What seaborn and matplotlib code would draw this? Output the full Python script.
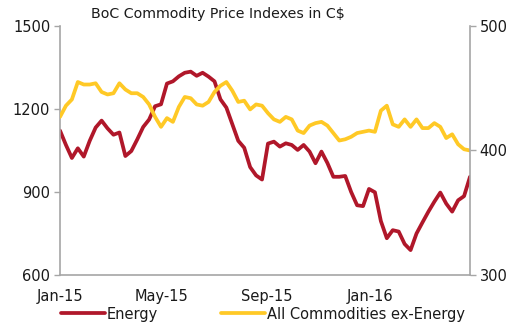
import numpy as np
import pandas as pd
import matplotlib
matplotlib.use("Agg")
import matplotlib.pyplot as plt
import matplotlib.dates as mdates
import seaborn as sns

# Weekly index levels, Jan 2015 - Apr 2016
energy = [1122, 1070, 1023, 1058, 1028, 1085, 1133, 1158, 1130, 1107,
          1115, 1030, 1048, 1090, 1135, 1162, 1210, 1217, 1292, 1300,
          1318, 1331, 1335, 1320, 1331, 1317, 1300, 1235, 1205, 1145,
          1085, 1060, 990, 960, 945, 1075, 1082, 1064, 1076, 1070,
          1052, 1070, 1046, 1004, 1046, 1005, 955, 955, 958, 900,
          852, 849, 911, 899, 795, 733, 762, 757, 712, 690,
          750, 790, 829, 865, 898, 858, 829, 870, 885, 955]
ex_energy = [427, 436, 441, 455, 453, 453, 454, 447, 445, 446,
             454, 449, 446, 446, 443, 437, 427, 419, 426, 423,
             435, 443, 442, 437, 436, 439, 447, 452, 455, 448,
             439, 440, 433, 437, 436, 430, 425, 423, 427, 425,
             416, 414, 420, 422, 423, 420, 414, 408, 409, 411,
             414, 415, 416, 415, 432, 436, 421, 419, 425, 419,
             425, 418, 418, 422, 419, 410, 413, 405, 401, 400]
dates = pd.date_range("2015-01-01", periods=len(energy), freq="7D")

tick_dates = ["2015-01-01", "2015-05-01", "2015-09-01", "2016-01-01"]
tick_labels = ["Jan-15", "May-15", "Sep-15", "Jan-16"]
left_ticks = [600, 900, 1200, 1500]
right_ticks = [300, 400, 500]

df = pd.DataFrame({"date": dates, "Energy": energy,
                   "All Commodities ex-Energy": ex_energy})

sns.set_theme(style="white")
plt.rcParams["font.family"] = ["DejaVu Sans"]

RED = "#B0172A"
YELLOW = "#FFC926"
GREY = "#A6A6A6"
TEXT = "#1a1a1a"

fig = plt.figure(figsize=(5.21, 3.31), dpi=100)
ax = fig.add_axes([60 / 521, 1 - 275 / 331, 410 / 521, 249 / 331])
ax2 = ax.twinx()

sns.lineplot(data=df, x="date", y="Energy", ax=ax, color=RED, lw=2.7,
             label="Energy", legend=False)
sns.lineplot(data=df, x="date", y="All Commodities ex-Energy", ax=ax2,
             color=YELLOW, lw=2.7, label="All Commodities ex-Energy",
             legend=False)

ax.set_xlim(dates[0], dates[-1])
ax.set_ylim(600, 1500)
ax2.set_ylim(300, 500)
ax.set_yticks(left_ticks)
ax2.set_yticks(right_ticks)
ax.set_xticks(pd.to_datetime(tick_dates))
ax.set_xticklabels(tick_labels)
ax.set_xlabel("")
ax.set_ylabel("")
ax2.set_ylabel("")

for a in (ax, ax2):
    a.grid(False)
    a.spines["top"].set_visible(False)
    for s in ("left", "right", "bottom"):
        a.spines[s].set_color(GREY)
        a.spines[s].set_linewidth(1.2)
    a.tick_params(axis="both", direction="out", length=4, width=1,
                  color=GREY, labelsize=10.5, labelcolor=TEXT, pad=3)
ax.tick_params(axis="x", pad=6)
ax.tick_params(axis="y", left=True)
ax2.tick_params(axis="y", right=True)
ax.spines["right"].set_visible(False)
ax2.spines["left"].set_visible(False)
ax2.spines["bottom"].set_visible(False)

fig.text(218 / 521, 1 - 14 / 331, "BoC Commodity Price Indexes in C$",
         ha="center", va="center", fontsize=10.2, color=TEXT)

handles = ax.get_lines()[:1] + ax2.get_lines()[:1]
fig.legend(handles, ["Energy", "All Commodities ex-Energy"],
           loc="center", bbox_to_anchor=(263 / 521, 1 - 314 / 331), ncol=2,
           frameon=False, fontsize=10.5, handlelength=3.0,
           handletextpad=0.15, columnspacing=4.3, labelcolor=TEXT)

fig.savefig("out.png", dpi=100)
